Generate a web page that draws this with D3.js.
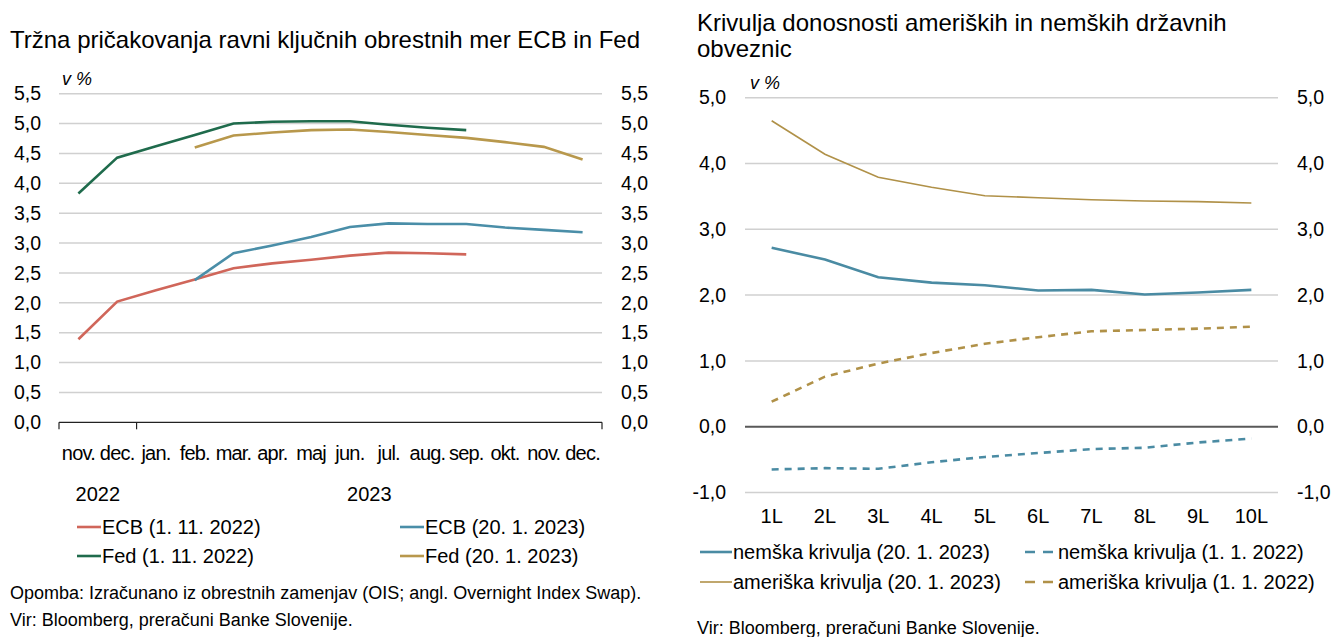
<!DOCTYPE html>
<html>
<head>
<meta charset="utf-8">
<script src="https://cdn.jsdelivr.net/npm/d3@7"></script>
<style>
  body { margin: 0; background: #fff; }
  svg text { font-family: "Liberation Sans", Arial, sans-serif; fill: #000; }
</style>
</head>
<body>
<div id="chart"></div>
<script>
// left chart: market expectations of key rates
const months = ['nov.', 'dec.', 'jan.', 'feb.', 'mar.', 'apr.', 'maj', 'jun.', 'jul.', 'aug.', 'sep.', 'okt.', 'nov.', 'dec.'];
const yearLabels = ['2022', '2023'];
const yearSpans = [2, 12];
const ecbNov22 = [1.39, 2.02, 2.21, 2.39, 2.58, 2.66, 2.72, 2.79, 2.84, 2.83, 2.81, null, null, null];
const ecbJan23 = [null, null, null, 2.38, 2.83, 2.96, 3.10, 3.27, 3.33, 3.32, 3.32, 3.26, 3.22, 3.18];
const fedNov22 = [3.83, 4.43, 4.62, 4.81, 5.00, 5.03, 5.04, 5.04, 4.98, 4.93, 4.89, null, null, null];
const fedJan23 = [null, null, null, 4.60, 4.80, 4.85, 4.89, 4.90, 4.86, 4.81, 4.76, 4.69, 4.61, 4.40];
const leftTicks = [0, 0.5, 1, 1.5, 2, 2.5, 3, 3.5, 4, 4.5, 5, 5.5];

// right chart: yield curves
const maturities = ['1L', '2L', '3L', '4L', '5L', '6L', '7L', '8L', '9L', '10L'];
const deJan23 = [2.72, 2.54, 2.27, 2.19, 2.15, 2.07, 2.08, 2.01, 2.04, 2.08];
const deJan22 = [-0.65, -0.63, -0.64, -0.54, -0.46, -0.40, -0.34, -0.32, -0.24, -0.18];
const usJan23 = [4.65, 4.14, 3.79, 3.64, 3.51, 3.48, 3.45, 3.43, 3.42, 3.40];
const usJan22 = [0.38, 0.76, 0.96, 1.12, 1.26, 1.36, 1.45, 1.47, 1.49, 1.52];
const rightTicks = [-1, 0, 1, 2, 3, 4, 5];

const width = 1334;
const height = 637;
const fmt = d3.formatLocale({ decimal: ',', thousands: '.', grouping: [3], currency: ['', ''], minus: '-' }).format('.1f');

const svg = d3.select('#chart').append('svg')
  .attr('width', width)
  .attr('height', height);

/**
 * Left chart
 */
const L = svg.append('g');
const xL = d3.scaleBand().domain(d3.range(months.length)).range([59, 602]);
const yL = d3.scaleLinear().domain([0, 5.5]).range([422.3, 93.7]);

L.append('text').attr('x', 10).attr('y', 48).style('font-size', '24px')
  .text('Tržna pričakovanja ravni ključnih obrestnih mer ECB in Fed');
L.append('text').attr('x', 62).attr('y', 85).style('font-size', '18px').style('font-style', 'italic')
  .text('v %');

L.selectAll('line.grid').data(leftTicks.filter(d => d > 0)).enter().append('line')
  .attr('x1', 59).attr('x2', 602)
  .attr('y1', d => yL(d)).attr('y2', d => yL(d))
  .attr('stroke', '#d0d0d0').attr('stroke-width', 1.5);

const leftAxisL = L.append('g').attr('transform', 'translate(41,0)')
  .call(d3.axisLeft(yL).tickValues(leftTicks).tickFormat(fmt).tickSize(0).tickPadding(0));
const rightAxisL = L.append('g').attr('transform', 'translate(621,0)')
  .call(d3.axisRight(yL).tickValues(leftTicks).tickFormat(fmt).tickSize(0).tickPadding(0));
[leftAxisL, rightAxisL].forEach(a => {
  a.select('.domain').remove();
  a.selectAll('text').style('font-size', '19.5px').attr('font-family', null);
});

// category axis with year separators
L.append('line').attr('x1', 59).attr('x2', 602).attr('y1', yL(0)).attr('y2', yL(0))
  .attr('stroke', '#222').attr('stroke-width', 1.2);
const sepIdx = [0, yearSpans[0], months.length];
L.selectAll('line.sep').data(sepIdx).enter().append('line')
  .attr('x1', d => 59 + d * xL.step()).attr('x2', d => 59 + d * xL.step())
  .attr('y1', yL(0)).attr('y2', yL(0) + 7)
  .attr('stroke', '#222').attr('stroke-width', 1.2);
L.selectAll('text.month').data(months).enter().append('text')
  .attr('x', (d, i) => xL(i) + xL.bandwidth() / 2).attr('y', 460)
  .attr('text-anchor', 'middle').style('font-size', '20px').style('letter-spacing', '-0.8px')
  .text(d => d);
L.selectAll('text.year').data(yearLabels).enter().append('text')
  .attr('x', (d, i) => {
    const start = i === 0 ? 0 : yearSpans[0];
    return 59 + (start + yearSpans[i] / 2) * xL.step();
  })
  .attr('y', 501).attr('text-anchor', 'middle').style('font-size', '20px')
  .text(d => d);

const leftSeries = [
  { name: 'ECB (1. 11. 2022)', values: ecbNov22, color: '#d0665a' },
  { name: 'ECB (20. 1. 2023)', values: ecbJan23, color: '#4a8ea8' },
  { name: 'Fed (1. 11. 2022)', values: fedNov22, color: '#1f6b4c' },
  { name: 'Fed (20. 1. 2023)', values: fedJan23, color: '#b8984c' },
];
const lineL = d3.line()
  .defined(d => d !== null)
  .x((d, i) => xL(i) + xL.bandwidth() / 2)
  .y(d => yL(d));
L.selectAll('path.series').data(leftSeries).enter().append('path')
  .attr('d', d => lineL(d.values))
  .attr('fill', 'none').attr('stroke', d => d.color).attr('stroke-width', 2.6);

// legend
const legL = [
  { s: leftSeries[0], x: 77, y: 527 },
  { s: leftSeries[1], x: 400, y: 527 },
  { s: leftSeries[2], x: 77, y: 556 },
  { s: leftSeries[3], x: 400, y: 556 },
];
legL.forEach(l => {
  L.append('line').attr('x1', l.x).attr('x2', l.x + 24).attr('y1', l.y).attr('y2', l.y)
    .attr('stroke', l.s.color).attr('stroke-width', 2.6);
  L.append('text').attr('x', l.x + 25).attr('y', l.y + 7).style('font-size', '20px').text(l.s.name);
});
L.append('text').attr('x', 10).attr('y', 599).style('font-size', '18px')
  .text('Opomba: Izračunano iz obrestnih zamenjav (OIS; angl. Overnight Index Swap).');
L.append('text').attr('x', 10).attr('y', 626).style('font-size', '18px')
  .text('Vir: Bloomberg, preračuni Banke Slovenije.');

/**
 * Right chart
 */
const R = svg.append('g');
const xR = d3.scaleBand().domain(maturities).range([745, 1278]);
const yR = d3.scaleLinear().domain([-1, 5]).range([492.5, 97.7]);

R.append('text').attr('x', 697).attr('y', 31).style('font-size', '24px')
  .text('Krivulja donosnosti ameriških in nemških državnih');
R.append('text').attr('x', 697).attr('y', 57).style('font-size', '24px')
  .text('obveznic');
R.append('text').attr('x', 750).attr('y', 89).style('font-size', '18px').style('font-style', 'italic')
  .text('v %');

R.selectAll('line.grid').data(rightTicks).enter().append('line')
  .attr('x1', 745).attr('x2', 1278)
  .attr('y1', d => yR(d)).attr('y2', d => yR(d))
  .attr('stroke', d => d === 0 ? '#595959' : '#d0d0d0')
  .attr('stroke-width', d => d === 0 ? 2 : 1.5);

const leftAxisR = R.append('g').attr('transform', 'translate(726,0)')
  .call(d3.axisLeft(yR).tickValues(rightTicks).tickFormat(fmt).tickSize(0).tickPadding(0));
const rightAxisR = R.append('g').attr('transform', 'translate(1297,0)')
  .call(d3.axisRight(yR).tickValues(rightTicks).tickFormat(fmt).tickSize(0).tickPadding(0));
[leftAxisR, rightAxisR].forEach(a => {
  a.select('.domain').remove();
  a.selectAll('text').style('font-size', '19.5px').attr('font-family', null);
});

R.selectAll('text.mat').data(maturities).enter().append('text')
  .attr('x', d => xR(d) + xR.bandwidth() / 2).attr('y', 523)
  .attr('text-anchor', 'middle').style('font-size', '20px')
  .text(d => d);

const rightSeries = [
  { name: 'nemška krivulja (20. 1. 2023)', values: deJan23, color: '#4a8ba3', w: 2.6, dash: null },
  { name: 'nemška krivulja (1. 1. 2022)', values: deJan22, color: '#4a8ba3', w: 2.6, dash: '7,6' },
  { name: 'ameriška krivulja (20. 1. 2023)', values: usJan23, color: '#b09148', w: 1.6, dash: null },
  { name: 'ameriška krivulja (1. 1. 2022)', values: usJan22, color: '#b09148', w: 2.6, dash: '7,6' },
];
const lineR = d3.line()
  .x((d, i) => xR(maturities[i]) + xR.bandwidth() / 2)
  .y(d => yR(d));
R.selectAll('path.series').data(rightSeries).enter().append('path')
  .attr('d', d => lineR(d.values))
  .attr('fill', 'none').attr('stroke', d => d.color).attr('stroke-width', d => d.w)
  .attr('stroke-dasharray', d => d.dash);

const legR = [
  { s: rightSeries[0], x: 700, y: 552 },
  { s: rightSeries[1], x: 1025, y: 552 },
  { s: rightSeries[2], x: 700, y: 582 },
  { s: rightSeries[3], x: 1025, y: 582 },
];
legR.forEach(l => {
  R.append('line').attr('x1', l.x).attr('x2', l.x + 32).attr('y1', l.y).attr('y2', l.y)
    .attr('stroke', l.s.color).attr('stroke-width', l.s.w).attr('stroke-dasharray', l.s.dash ? '10,8' : null);
  R.append('text').attr('x', l.x + 33).attr('y', l.y + 7).style('font-size', '20px').text(l.s.name);
});
R.append('text').attr('x', 697).attr('y', 634).style('font-size', '18px')
  .text('Vir: Bloomberg, preračuni Banke Slovenije.');
</script>
</body>
</html>
